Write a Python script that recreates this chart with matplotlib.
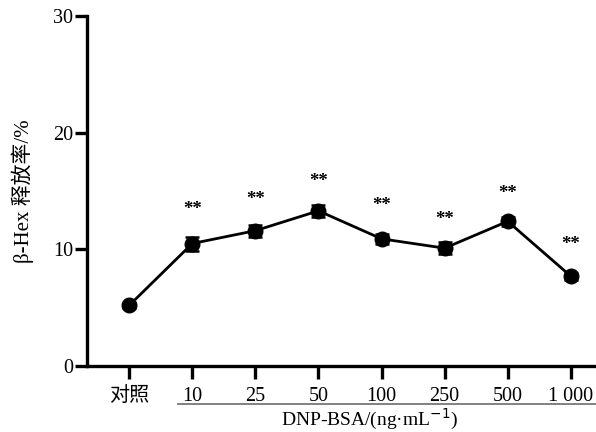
import matplotlib
matplotlib.use("Agg")
import matplotlib.pyplot as plt
from matplotlib.lines import Line2D

categories = ["对照", "10", "25", "50", "100", "250", "500", "1 000"]
values = [5.2, 10.5, 11.6, 13.3, 10.9, 10.1, 12.4, 7.7]
errors = [0.2, 0.6, 0.5, 0.5, 0.4, 0.5, 0.4, 0.3]
sig = ["", "**", "**", "**", "**", "**", "**", "**"]
star_y = [0, 13.4, 14.3, 15.8, 13.8, 12.6, 14.8, 10.4]

serif = ["Liberation Serif", "Noto Sans CJK SC"]

fig = plt.figure(figsize=(5.96, 4.32), dpi=100)
ax = fig.add_axes([87/596, 66/432, 1 - 87/596, 350/432])

x = list(range(len(categories)))
ax.errorbar(x, values, yerr=errors, color="black", marker="o", markersize=10.5,
            linewidth=2.0, elinewidth=1.6, capsize=5, capthick=1.8)

for xi, s, sy in zip(x, sig, star_y):
    if s:
        ax.text(xi, sy, s, ha="center", va="center", fontsize=13.5,
                fontweight="bold", family=serif)

ax.set_xlim(-0.67, 7.4)
ax.set_ylim(0, 30)
ax.set_yticks([0, 10, 20, 30])
ax.set_yticklabels(["0", "10", "20", "30"], family=serif, fontsize=14.5)
ax.set_xticks(x)
ax.set_xticklabels(categories, family=serif, fontsize=14.5)

for sp in ["top", "right"]:
    ax.spines[sp].set_visible(False)
for sp in ["left", "bottom"]:
    ax.spines[sp].set_linewidth(2.4)

ax.tick_params(axis="both", direction="out", length=9, width=2.4)
ax.tick_params(axis="x", pad=6)
ax.tick_params(axis="y", pad=1)

ax.set_ylabel("β-Hex 释放率/%", family=serif, fontsize=15, labelpad=14)

# underline grouping concentrations
fig.add_artist(Line2D([178/596, 1.0], [1 - 404/432, 1 - 404/432],
                      color="#777777", linewidth=1.3))
fig.text(370/596, 1 - 426/432, "DNP-BSA/(ng·mL$^{-1}$)", family=serif,
         fontsize=14, ha="center", va="baseline")

fig.savefig("out.png", dpi=100)
